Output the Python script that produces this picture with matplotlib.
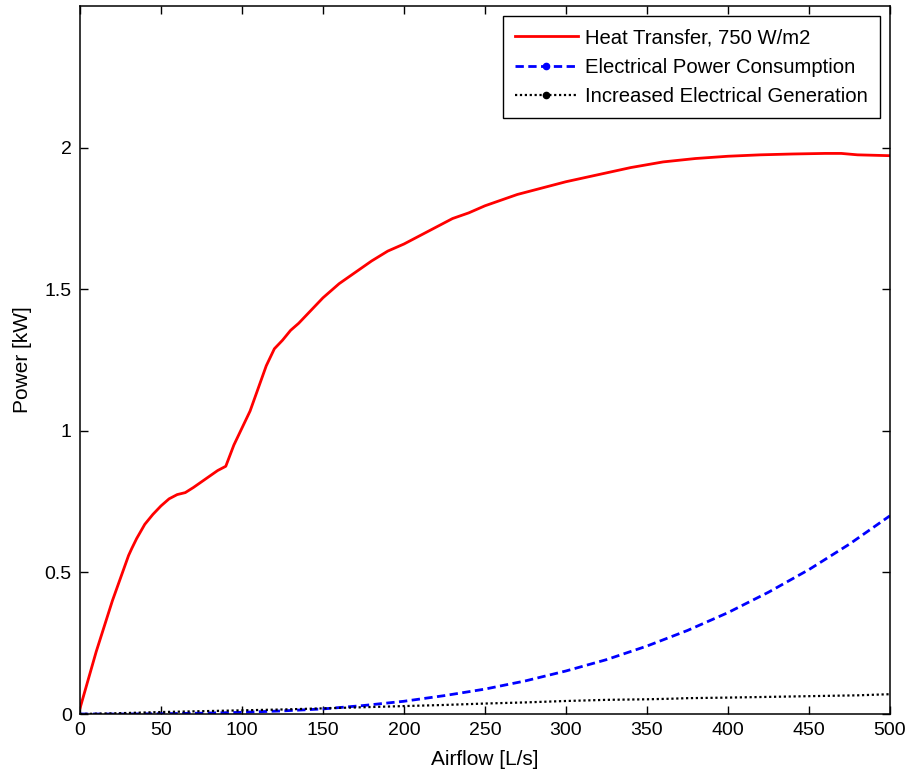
#!/usr/bin/python3

import matplotlib
matplotlib.use("Agg")
import matplotlib.pyplot as plt
from matplotlib.lines import Line2D

# heat transfer curve, 750 W/m2
heat_x = [0, 5, 10, 15, 20, 25, 30, 32, 35, 40, 45, 50, 55, 60, 65, 70,
          75, 80, 85, 90, 95, 100, 105, 110, 115, 120, 125, 130, 135, 140,
          145, 150, 160, 170, 180, 190, 200, 210, 220, 230, 240, 250, 260,
          270, 280, 290, 300, 320, 340, 360, 380, 400, 420, 440, 460, 470,
          480, 500]
heat_y = [0.02, 0.12, 0.22, 0.31, 0.40, 0.48, 0.56, 0.585, 0.62, 0.67,
          0.705, 0.735, 0.76, 0.775, 0.782, 0.80, 0.82, 0.84, 0.86, 0.875,
          0.95, 1.01, 1.07, 1.15, 1.23, 1.29, 1.32, 1.355, 1.38, 1.41, 1.44,
          1.47, 1.52, 1.56, 1.60, 1.635, 1.66, 1.69, 1.72, 1.75, 1.77, 1.795,
          1.815, 1.835, 1.85, 1.865, 1.88, 1.905, 1.93, 1.95, 1.962, 1.97,
          1.975, 1.978, 1.98, 1.98, 1.975, 1.972]

# electrical power consumption
elec_x = [0, 25, 50, 75, 100, 125, 150, 175, 200, 225, 250, 275, 300, 325,
          350, 375, 400, 425, 450, 475, 500]
elec_y = [0.0, 0.0, 0.001, 0.003, 0.006, 0.011, 0.018, 0.03, 0.045, 0.065,
          0.088, 0.117, 0.152, 0.192, 0.24, 0.295, 0.358, 0.43, 0.51, 0.60,
          0.70]

# increased electrical generation
gen_x = [0, 25, 50, 75, 100, 125, 150, 175, 200, 225, 250, 275, 300, 325,
         350, 365, 375, 400, 420, 440, 460, 480, 500]
gen_y = [0.0, 0.003, 0.007, 0.01, 0.013, 0.016, 0.02, 0.024, 0.028, 0.032,
         0.037, 0.041, 0.046, 0.05, 0.052, 0.054, 0.056, 0.058, 0.06, 0.062,
         0.064, 0.066, 0.07]

labels = ["Heat Transfer, 750 W/m2",
          "Electrical Power Consumption",
          "Increased Electrical Generation"]


def main():
    '''draw power vs airflow and save to out.png'''
    plt.rcParams["font.family"] = ["Liberation Sans", "DejaVu Sans"]

    fig = plt.figure(figsize=(9.1, 7.74), dpi=100)
    ax = fig.add_axes([0.0879, 0.0775, 0.89, 0.9145])

    ax.plot(heat_x, heat_y, color="red", lw=2.0)
    ax.plot(elec_x, elec_y, color="blue", lw=2.0, ls=(0, (3, 1.6)))
    ax.plot(gen_x, gen_y, color="black", lw=1.6, ls=(0, (1, 1.2)))

    ax.set_xlim(0, 500)
    ax.set_ylim(0, 2.5)
    ax.set_xticks(range(0, 501, 50))
    ax.set_yticks([0, 0.5, 1, 1.5, 2])
    ax.set_yticklabels(["0", "0.5", "1", "1.5", "2"])
    ax.tick_params(direction="in", length=6, width=1.0, top=True,
                   right=True, labelsize=14, pad=6)
    for sp in ax.spines.values():
        sp.set_linewidth(1.1)

    ax.set_xlabel("Airflow [L/s]", fontsize=15, labelpad=8)
    ax.set_ylabel("Power [kW]", fontsize=15, labelpad=9)

    handles = [
        Line2D([], [], color="red", lw=2.0),
        Line2D([], [], color="blue", lw=2.0, ls=(0, (3, 1.6)),
               marker=".", markersize=9),
        Line2D([], [], color="black", lw=1.6, ls=(0, (1, 1.2)),
               marker=".", markersize=9),
    ]
    leg = ax.legend(handles, labels, loc="upper right", fontsize=14.6,
                    fancybox=False, framealpha=1, edgecolor="black",
                    handlelength=3.1, handletextpad=0.35, borderaxespad=0.5,
                    labelspacing=0.5, numpoints=1, borderpad=0.6)
    leg.get_frame().set_linewidth(1.0)

    fig.savefig("out.png", dpi=100)


if __name__ == "__main__":
    main()
